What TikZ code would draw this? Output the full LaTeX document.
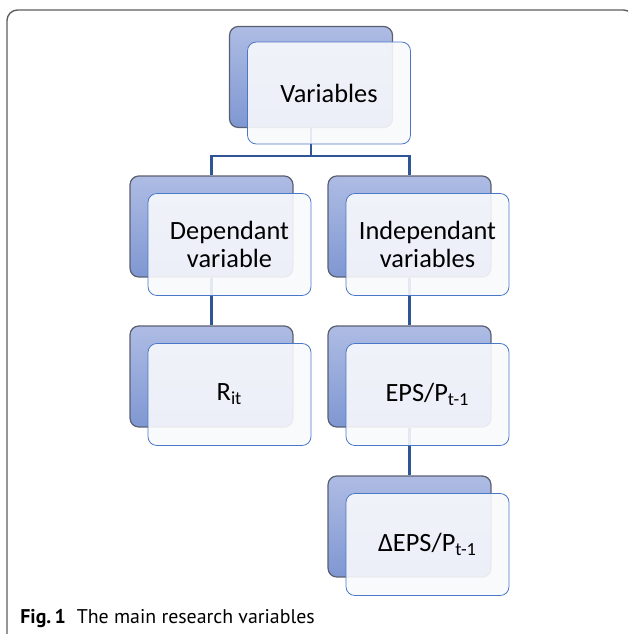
\documentclass[tikz,border=0pt]{standalone}
\usepackage{fontspec}
\setmainfont{Carlito}
\newfontfamily\capfont{PT Sans}
\usetikzlibrary{positioning}
\definecolor{backtop}{HTML}{AEBCE4}
\definecolor{backbot}{HTML}{7F97D2}
\definecolor{backline}{HTML}{5B6070}
\definecolor{frontline}{HTML}{4A78C8}
\definecolor{frontfill}{HTML}{F8F9FC}
\definecolor{linkblue}{HTML}{2F5597}
\definecolor{framegray}{HTML}{5E5E5E}

\begin{document}
\begin{tikzpicture}[x=0.02cm, y=-0.02cm,
    backbox/.style={rectangle, draw=backline, line width=0.7pt, top color=backtop, bottom color=backbot, rounded corners=5pt, minimum width=3.26cm, minimum height=2.02cm, inner sep=0pt},
    frontbox/.style={rectangle, draw=frontline, line width=0.45pt, fill=frontfill, fill opacity=0.9, text opacity=1, rounded corners=5pt, minimum width=3.26cm, minimum height=2.04cm, inner sep=0pt, align=center, font=\fontsize{15}{16}\selectfont},
    link/.style={draw=linkblue, line width=1.2pt}
]
    \useasboundingbox (0,0) rectangle (627,634);
    % outer frame
    \draw[framegray, line width=0.8pt, rounded corners=6pt] (7,10) rectangle (634,660);

    % back boxes
    \node[backbox] (varB) at (311,77) {};
    \node[backbox] (depB) at (211.5,226.5) {};
    \node[backbox] (indB) at (409.5,226.5) {};
    \node[backbox] (ritB) at (211.5,376.5) {};
    \node[backbox] (epsB) at (409.5,376.5) {};
    \node[backbox] (dltB) at (409.5,526.5) {};

    % connectors
    \draw[link] (varB.south) -- ++(0,28) -| (depB.north);
    \draw[link] (varB.south) -- ++(0,28) -| (indB.north);
    \draw[link] (depB.south) -- (ritB.north);
    \draw[link] (indB.south) -- (epsB.north);
    \draw[link] (epsB.south) -- (dltB.north);

    % front boxes
    \node[frontbox] (var) at (329,93) {Variables};
    \node[frontbox] (dep) at (229.5,244.5) {Dependant\\variable};
    \node[frontbox] (ind) at (427.5,244.5) {Independant\\variables};
    \node[frontbox] (rit) at (229.5,394.5) {R\textsubscript{it}};
    \node[frontbox] (eps) at (427.5,394.5) {EPS/P\textsubscript{t-1}};
    \node[frontbox] (dlt) at (427.5,544.5) {ΔEPS/P\textsubscript{t-1}};

    % caption
    \node[anchor=base west, inner sep=0pt, font=\capfont\fontsize{11.3}{13}\selectfont] (cap) at (20,623) {\textbf{Fig.\,1}\hspace{0.55em}The main research variables};
\end{tikzpicture}
\end{document}
